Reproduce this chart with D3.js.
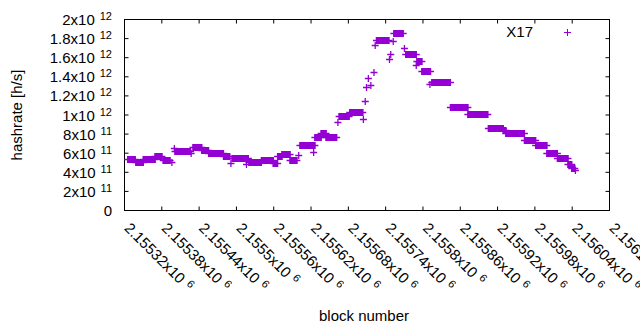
<!DOCTYPE html>
<html>
<head>
<meta charset="utf-8">
<script src="https://cdn.jsdelivr.net/npm/d3@7"></script>
<style>
    body { margin: 0; background: white; }
    text { font-family: "Liberation Sans", Arial, sans-serif; fill: black; }
</style>
</head>
<body>
<script>
    // runs of consecutive blocks that share one hashrate value (single points have start == end)
    runStart = [2155326, 2155339, 2155351, 2155370, 2155383, 2155397, 2155401, 2155402, 2155428, 2155431,
                2155445, 2155456, 2155480, 2155492, 2155494, 2155517, 2155521, 2155541, 2155560, 2155567,
                2155574, 2155587, 2155601, 2155603, 2155625, 2155627, 2155637, 2155645, 2155664, 2155666,
                2155683, 2155705, 2155708, 2155710, 2155713, 2155717, 2155722, 2155724, 2155726, 2155747,
                2155749, 2155753, 2155754, 2155771, 2155773, 2155790, 2155791, 2155799, 2155812, 2155815,
                2155845, 2155873, 2155906, 2155930, 2155934, 2155964, 2155982, 2156000, 2156017, 2156034,
                2156040, 2156046]
    runEnd   = [2155338, 2155351, 2155370, 2155381, 2155394, 2155397, 2155401, 2155427, 2155428, 2155445,
                2155456, 2155480, 2155490, 2155492, 2155520, 2155517, 2155541, 2155560, 2155567, 2155574,
                2155587, 2155598, 2155601, 2155627, 2155625, 2155637, 2155645, 2155662, 2155664, 2155682,
                2155704, 2155705, 2155708, 2155710, 2155713, 2155717, 2155722, 2155724, 2155746, 2155747,
                2155749, 2155753, 2155769, 2155771, 2155790, 2155790, 2155799, 2155813, 2155812, 2155845,
                2155873, 2155905, 2155930, 2155934, 2155964, 2155982, 2156000, 2156017, 2156034, 2156040,
                2156045, 2156046]
    runHash  = [5.37e11, 5.02e11, 5.37e11, 5.64e11, 5.22e11, 5.04e11, 6.45e11, 6.16e11, 5.92e11, 6.62e11,
                6.27e11, 6.00e11, 5.64e11, 4.95e11, 5.48e11, 4.85e11, 5.06e11, 5.27e11, 4.95e11, 5.64e11,
                5.82e11, 5.22e11, 5.72e11, 6.79e11, 6.10e11, 7.67e11, 8.03e11, 7.65e11, 9.24e11, 9.84e11,
                1.028e12, 9.58e11, 1.139e12, 1.285e12, 1.383e12, 1.306e12, 1.446e12, 1.731e12, 1.784e12, 1.582e12,
                1.634e12, 1.773e12, 1.854e12, 1.697e12, 1.634e12, 1.522e12, 1.557e12, 1.460e12, 1.321e12, 1.342e12,
                1.080e12, 1.007e12, 8.61e11, 8.33e11, 8.09e11, 7.36e11, 6.83e11, 6.00e11, 5.40e11, 4.83e11,
                4.36e11, 4.15e11]

    xTicks = [2155320, 2155380, 2155440, 2155500, 2155560, 2155620, 2155680,
              2155740, 2155800, 2155860, 2155920, 2155980, 2156040, 2156100]
    yTicks = [0, 2e11, 4e11, 6e11, 8e11, 1e12, 1.2e12, 1.4e12, 1.6e12, 1.8e12, 2e12]

    seriesName = "X17"
    xTitle = "block number"
    yTitle = "hashrate [h/s]"

    chartWidth = 640
    chartHeight = 330
    plotLeft = 124
    plotRight = 609
    plotTop = 19
    plotBottom = 210
    markSize = 3.5
    violet = "#9400d3"

// split a number into "mantissa x10" and the exponent, gnuplot style
sciParts = function(v){
    if (v == 0) { return ["0", ""] }
    var e = Math.floor(Math.log10(v) + 1e-9);
    var m = +(v / Math.pow(10, e)).toPrecision(6);
    return [m + "x10", "" + e];
}

plusPath = function(px, py){
    return "M" + (px - markSize) + "," + py + "H" + (px + markSize) +
           "M" + px + "," + (py - markSize) + "V" + (py + markSize);
}

var svg = d3.select("body")
    .append("svg")
    .attr("width", chartWidth)
    .attr("height", chartHeight);

x = d3.scaleLinear().domain([xTicks[0], xTicks[xTicks.length - 1]]).range([plotLeft, plotRight])
y = d3.scaleLinear().domain([0, 2e12]).range([plotBottom, plotTop])

// inward ticks on all four sides
svg.append("g").attr("transform", "translate(0," + (plotBottom + 0.5) + ")")
    .call(d3.axisBottom(x).tickValues(xTicks).tickSize(-4).tickSizeOuter(0).tickFormat(""));
svg.append("g").attr("transform", "translate(0," + (plotTop + 0.5) + ")")
    .call(d3.axisTop(x).tickValues(xTicks).tickSize(-4).tickSizeOuter(0).tickFormat(""));
svg.append("g").attr("transform", "translate(" + (plotLeft + 0.5) + ",0)")
    .call(d3.axisLeft(y).tickValues(yTicks).tickSize(-4).tickSizeOuter(0).tickFormat(""));
svg.append("g").attr("transform", "translate(" + (plotRight + 0.5) + ",0)")
    .call(d3.axisRight(y).tickValues(yTicks).tickSize(-4).tickSizeOuter(0).tickFormat(""));
svg.selectAll(".domain").remove();
svg.selectAll(".tick line").attr("stroke", "black");

svg.append("rect")
    .attr("x", plotLeft + 0.5)
    .attr("y", plotTop + 0.5)
    .attr("width", plotRight - plotLeft)
    .attr("height", plotBottom - plotTop)
    .style("fill", "none")
    .style("stroke", "black")
    .style("stroke-width", 1);

// y tick labels
var yLab = svg.selectAll(".ylab")
    .data(yTicks)
    .enter()
    .append("text")
    .attr("class", "ylab")
    .attr("x", 112)
    .attr("y", function (d) { return y(d) + 6 })
    .attr("text-anchor", "end")
    .attr("font-size", "15px")
    .text(function (d) { return sciParts(d)[0] });
yLab.filter(function (d) { return d != 0 })
    .append("tspan")
    .attr("dx", 5)
    .attr("dy", -5)
    .attr("font-size", "11px")
    .text(function (d) { return sciParts(d)[1] });

// x tick labels, rotated
var xLab = svg.selectAll(".xlab")
    .data(xTicks)
    .enter()
    .append("text")
    .attr("class", "xlab")
    .attr("transform", function (d) { return "translate(" + (x(d) - 0.5) + ",229) rotate(45)" })
    .attr("font-size", "15px")
    .text(function (d) { return sciParts(d)[0] });
xLab.append("tspan")
    .attr("dx", 5)
    .attr("dy", -5)
    .attr("font-size", "11px")
    .text(function (d) { return sciParts(d)[1] });

svg.append("text")
    .attr("x", 364)
    .attr("y", 321)
    .attr("text-anchor", "middle")
    .attr("font-size", "15px")
    .text(xTitle);

svg.append("text")
    .attr("transform", "translate(22," + ((plotTop + plotBottom) / 2 + 0.5) + ") rotate(-90)")
    .attr("text-anchor", "middle")
    .attr("font-size", "15px")
    .text(yTitle);

// data: a run of dense points merges into a solid band the height of a marker
runs = runStart.map(function (s, i) { return {start: s, end: runEnd[i], hash: runHash[i]} })

var dataG = svg.append("g");
dataG.selectAll(".band")
    .data(runs.filter(function (d) { return d.end > d.start }))
    .enter()
    .append("rect")
    .attr("x", function (d) { return x(d.start) - 0.5 })
    .attr("y", function (d) { return Math.round(y(d.hash)) - markSize + 0.5 })
    .attr("width", function (d) { return x(d.end) - x(d.start) + 1 })
    .attr("height", markSize * 2)
    .style("fill", violet);

dataG.selectAll(".pt")
    .data(runs.flatMap(function (d) { return d.end > d.start ? [[d.start, d.hash], [d.end, d.hash]] : [[d.start, d.hash]] }))
    .enter()
    .append("path")
    .attr("d", function (d) { return plusPath(x(d[0]), Math.round(y(d[1])) + 0.5) })
    .style("fill", "none")
    .style("stroke", violet)
    .style("stroke-width", 1.3);

// legend
svg.append("text")
    .attr("x", 533)
    .attr("y", 37)
    .attr("text-anchor", "end")
    .attr("font-size", "15px")
    .text(seriesName);
svg.append("path")
    .attr("d", plusPath(567.5, 32.5))
    .style("fill", "none")
    .style("stroke", violet)
    .style("stroke-width", 1);
</script>
</body>
</html>
